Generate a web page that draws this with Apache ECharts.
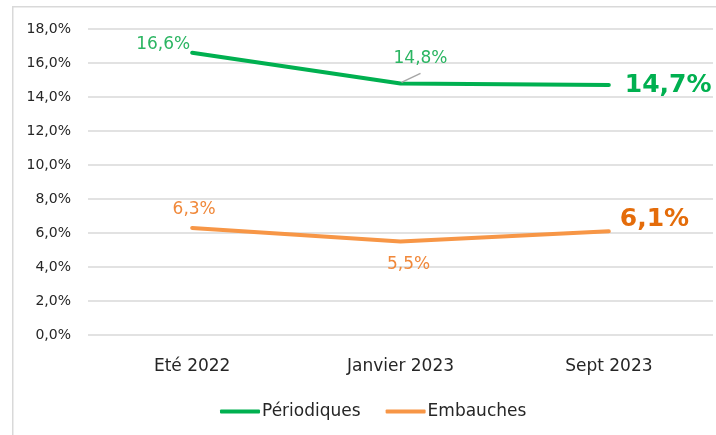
<!DOCTYPE html>
<html>
<head>
<meta charset="utf-8">
<script src="https://cdn.jsdelivr.net/npm/echarts@6/dist/echarts.min.js"></script>
<style>
html,body{margin:0;padding:0;background:#fff;}
#chart{width:716px;height:435px;}
</style>
</head>
<body>
<div id="chart"></div>
<script>
const categories = ['Eté 2022', 'Janvier 2023', 'Sept 2023'];
const periodiques = [16.6, 14.8, 14.7];
const embauches = [6.3, 5.5, 6.1];
const seriesNames = ['Périodiques', 'Embauches'];
const yMin = 0, yMax = 18, yStep = 2;

const FONT = 'DejaVu Sans';
const GREEN = '#00B050', GREEN_LBL = '#2BB562';
const ORANGE = '#F79646', ORANGE_LBL = '#F0883A', ORANGE_BIG = '#E46C0A';

const fmt = v => v.toFixed(1).replace('.', ',') + '%';

const perLabelStyles = [
  {position: 'left', distance: 0, offset: [-2, -8], color: GREEN_LBL, fontSize: 17},
  {position: 'top', distance: 6, offset: [20, -10], color: GREEN_LBL, fontSize: 17},
  {position: 'right', distance: 16, offset: [0, 0], color: GREEN, fontSize: 25, fontWeight: 'bold'}
];
const embLabelStyles = [
  {position: 'top', distance: 10, offset: [2, 0], color: ORANGE_LBL, fontSize: 17},
  {position: 'bottom', distance: 15, offset: [8, 0], color: ORANGE_LBL, fontSize: 17},
  {position: 'right', distance: 11, offset: [0, -12], color: ORANGE_BIG, fontSize: 25, fontWeight: 'bold'}
];

function build(values, styles) {
  return values.map((v, i) => ({
    value: v,
    label: Object.assign({show: true, fontFamily: FONT, formatter: p => fmt(p.value)}, styles[i])
  }));
}

const chart = echarts.init(document.getElementById('chart'));
chart.setOption({
  animation: false,
  grid: {left: 88, right: 3, top: 29, bottom: 100, containLabel: false},
  legend: {
    data: seriesNames,
    left: 215, top: 398,
    icon: 'roundRect', itemWidth: 40, itemHeight: 4, itemGap: 25,
    textStyle: {fontFamily: FONT, fontSize: 17, color: '#262626', padding: [0, 0, 0, -3]}
  },
  xAxis: {
    type: 'category', data: categories, boundaryGap: true,
    axisLine: {show: false}, axisTick: {show: false},
    axisLabel: {fontFamily: FONT, fontSize: 17, color: '#262626', margin: 23}
  },
  yAxis: {
    type: 'value', min: yMin, max: yMax, interval: yStep,
    axisLine: {show: false}, axisTick: {show: false},
    axisLabel: {fontFamily: FONT, fontSize: 14, color: '#262626', margin: 17, formatter: v => fmt(v)},
    splitLine: {lineStyle: {color: '#D9D9D9', width: 1.5}}
  },
  series: [
    {
      name: seriesNames[0], type: 'line', data: build(periodiques, perLabelStyles),
      symbol: 'circle', symbolSize: 0, showSymbol: true,
      itemStyle: {color: GREEN},
      lineStyle: {color: GREEN, width: 4, cap: 'round'}
    },
    {
      name: seriesNames[1], type: 'line', data: build(embauches, embLabelStyles),
      symbol: 'circle', symbolSize: 0, showSymbol: true,
      itemStyle: {color: ORANGE},
      lineStyle: {color: ORANGE, width: 4, cap: 'round'}
    }
  ]
});

// leader line for the middle "Périodiques" label, anchored to the data point via the chart's scales
const p = chart.convertToPixel({seriesIndex: 0}, [1, periodiques[1]]);
chart.setOption({
  graphic: [
    {
      type: 'rect', silent: true, z: -1,
      shape: {x: 12.75, y: 6.75, width: 720, height: 440},
      style: {fill: null, stroke: '#D9D9D9', lineWidth: 1.5}
    },
    {
      type: 'line', silent: true, z: 10,
      shape: {x1: p[0] + 1, y1: p[1] - 1, x2: p[0] + 20, y2: p[1] - 10},
      style: {stroke: '#A6A6A6', lineWidth: 1.5}
    }
  ]
});
</script>
</body>
</html>
